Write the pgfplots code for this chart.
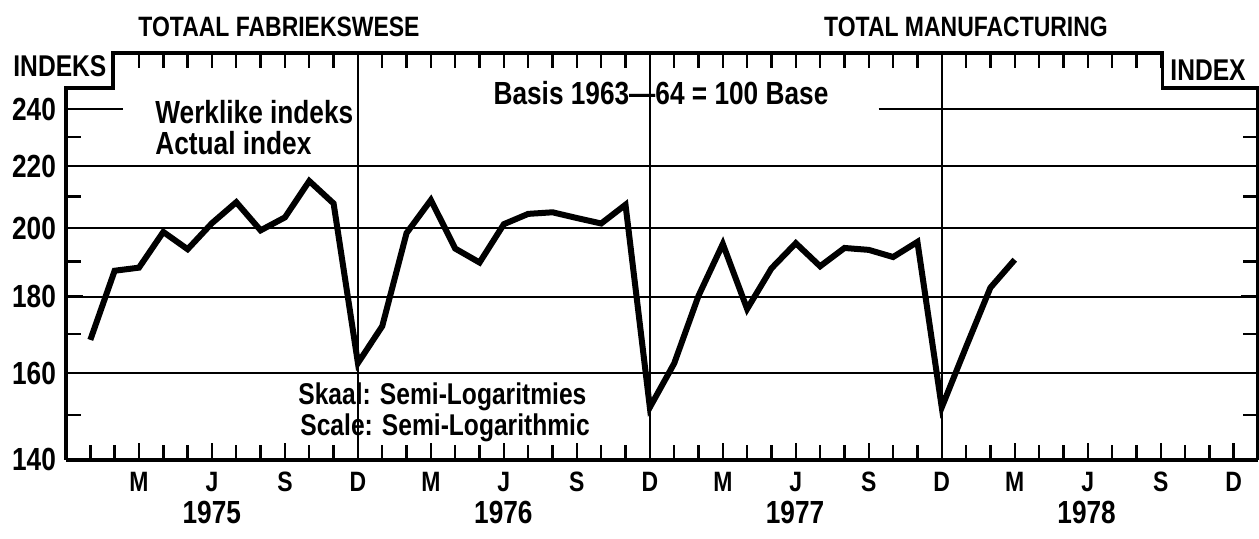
\documentclass[border=0pt]{standalone}
\usepackage{pgfplots}
\pgfplotsset{compat=1.18}
\usepackage{fontspec}
\setmainfont{Liberation Sans}[FakeStretch=0.82]
\newcommand{\fs}[1]{\bfseries\fontsize{#1}{#1}\selectfont}
\begin{document}
\begin{tikzpicture}
\path[use as bounding box] (-33pt,-39pt) rectangle (596.5pt,230pt);
\begin{axis}[
  name=ax, at={(0,0)}, anchor=south west,
  scale only axis, width=596pt, height=203.5pt,
  xmin=0, xmax=49, ymode=log, ymin=140, ymax=261.8,
  clip=false,
  axis line style={draw=none},
  tick align=inside,
  xtick pos=left, ytick pos=both,
  xtick={3,6,...,48},
  xticklabels={M,J,S,D,M,J,S,D,M,J,S,D,M,J,S,D},
  minor xtick={1,...,48},
  ytick={160,180,200,220},
  yticklabels={160,180,200,220},
  extra y ticks={140,240},
  extra y tick labels={140,240},
  extra y tick style={ymajorgrids=false, major tick length=0pt},
  ymajorgrids,
  minor ytick={150,170,190,210,230},
  major tick length=8.5pt, minor tick length=7.5pt,
  tick style={black, line width=1.2pt},
  major grid style={black, line width=1pt},
  xticklabel style={font=\fs{14}, yshift=-2.5pt},
  yticklabel style={font=\fs{16}, xshift=-1.5pt},
]
% gridline 240 (partial) and vertical year separators
\draw[line width=1pt] (axis cs:0,240) -- (axis cs:2.35,240);
\draw[line width=1pt] (axis cs:33.4,240) -- (axis cs:49,240);
\draw[line width=1pt] (axis cs:12,140) -- (axis cs:12,261.8);
\draw[line width=1pt] (axis cs:24,140) -- (axis cs:24,261.8);
\draw[line width=1pt] (axis cs:36,140) -- (axis cs:36,261.8);
% top ticks
\pgfplotsinvokeforeach{3,...,45}{\draw[line width=1.2pt] (axis cs:#1,261.8) -- ([yshift=-7.5pt]axis cs:#1,261.8);}
% frame
\draw[line width=1.6pt] (rel axis cs:0,0) -- (rel axis cs:1,0);
\draw[line width=1.6pt] (rel axis cs:0,0) -- (rel axis cs:0,0.914) -- (rel axis cs:0.0394,0.914)
  -- (rel axis cs:0.0394,1) -- (rel axis cs:0.920,1) -- (rel axis cs:0.920,0.914)
  -- (rel axis cs:1,0.914) -- (rel axis cs:1,0);
\addplot[black, line width=3pt, line join=miter, mark=none] coordinates {
(1,168.4) (2,187.3) (3,188.2) (4,198.8) (5,193.6) (6,201.5) (7,208.1) (8,199.3)
(9,203.3) (10,215.0) (11,207.7) (12,162.5)
(13,172.0) (14,198.5) (15,208.8) (16,193.8) (17,189.7) (18,201.2) (19,204.4) (20,204.9)
(21,203.1) (22,201.4) (23,207.3) (24,151.8)
(25,162.4) (26,180.2) (27,195.2) (28,176.6) (29,188.0) (30,195.4) (31,188.6) (32,194.0)
(33,193.4) (34,191.3) (35,195.8) (36,151.8)
(37,166.6) (38,182.5) (39,190.5)
};
\end{axis}
\begin{scope}[shift={(ax.south west)}, every node/.style={inner sep=0pt}]
\node[font=\fs{14}] at (106.5pt,216.5pt) {TOTAAL FABRIEKSWESE};
\node[font=\fs{14}] at (450pt,216.5pt) {TOTAL MANUFACTURING};
\node[font=\fs{15}, anchor=west] at (-26.5pt,197pt) {INDEKS};
\node[font=\fs{15}, anchor=west] at (552pt,195pt) {INDEX};
\node[font=\fs{16}, anchor=west] at (44.5pt,174pt) {Werklike indeks};
\node[font=\fs{16}, anchor=west] at (44.5pt,158.5pt) {Actual index};
\node[font=\fs{16}] at (297.5pt,183.5pt) {Basis 1963—64 = 100 Base};
\node[font=\bfseries\fontsize{15}{12.8}\selectfont, align=left, anchor=base west]
  at (116pt,12.5pt) {\lineskiplimit=-20pt Skaal: Semi-Logaritmies\\\hspace*{1pt}Scale: Semi-Logarithmic};
\node[font=\fs{16}] at (72.9pt,-26pt) {1975};
\node[font=\fs{16}] at (218.7pt,-26pt) {1976};
\node[font=\fs{16}] at (364.5pt,-26pt) {1977};
\node[font=\fs{16}] at (510.3pt,-26pt) {1978};
\end{scope}
\end{tikzpicture}
\end{document}
